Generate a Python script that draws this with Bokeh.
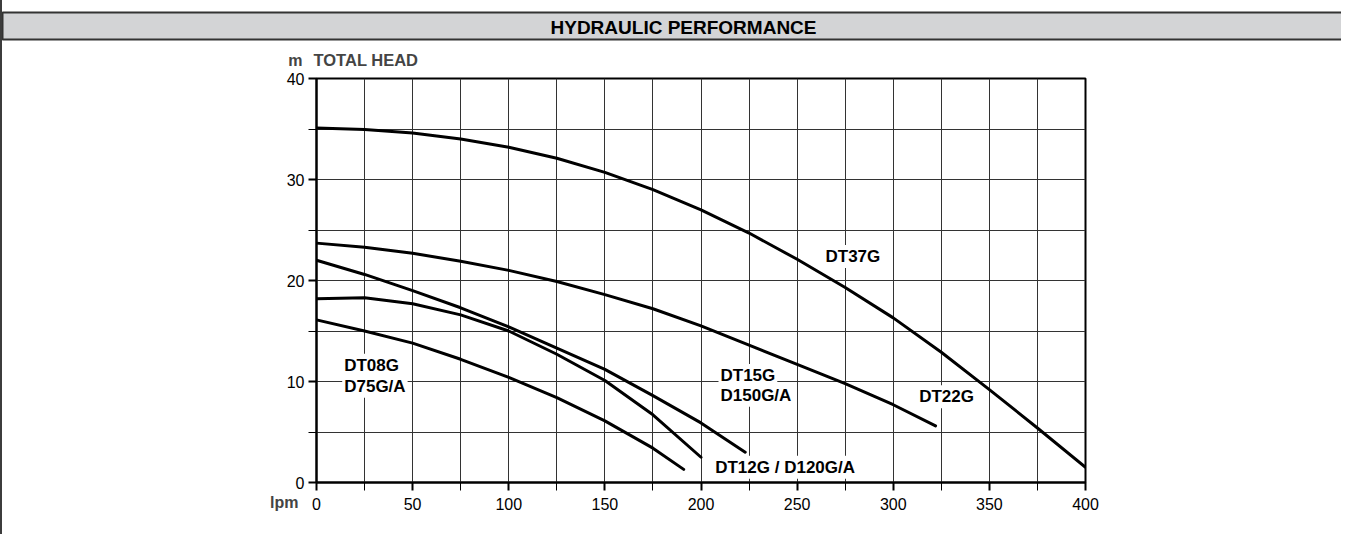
from bokeh.plotting import figure
from bokeh.models import Label, FixedTicker, Range1d
from bokeh.embed import file_html
from bokeh.resources import INLINE

# ---------------- data ----------------
x_ticks = [0, 50, 100, 150, 200, 250, 300, 350, 400]
x_minor = [25, 75, 125, 175, 225, 275, 325, 375]
y_ticks = [0, 10, 20, 30, 40]
y_minor = [5, 15, 25, 35]

dt37_q = [0, 25, 50, 75, 100, 125, 150, 175, 200, 225, 250, 275, 300, 325, 350, 375, 400]
dt37_h = [35.1, 34.95, 34.6, 34.0, 33.2, 32.1, 30.7, 29.0, 27.0, 24.7, 22.1, 19.3, 16.3, 12.9, 9.2, 5.4, 1.5]

dt22_q = [0, 25, 50, 75, 100, 125, 150, 175, 200, 225, 250, 275, 300, 322]
dt22_h = [23.7, 23.3, 22.7, 21.9, 21.0, 19.9, 18.6, 17.2, 15.5, 13.6, 11.7, 9.8, 7.7, 5.6]

dt15_q = [0, 25, 50, 75, 100, 125, 150, 175, 200, 223]
dt15_h = [22.0, 20.6, 19.0, 17.3, 15.4, 13.3, 11.2, 8.6, 5.9, 3.0]

dt12_q = [0, 25, 50, 75, 100, 125, 150, 175, 200]
dt12_h = [18.2, 18.3, 17.7, 16.6, 15.0, 12.7, 10.1, 6.7, 2.5]

dt08_q = [0, 25, 50, 75, 100, 125, 150, 175, 191]
dt08_h = [16.1, 15.0, 13.8, 12.2, 10.4, 8.4, 6.1, 3.4, 1.3]

# ---------------- layout ----------------
W, H = 1341, 534
SHIFT = 2                      # css left border width
FONT = "Liberation Sans"
X0, X1 = 0, 400
Y0, Y1 = 0, 40
# frame in picture coordinates
FL, FR, FT, FB = 316, 1085, 78, 482
LIFT = 7                       # labels render ~7px below the requested baseline


def dx(px):
    """picture x pixel -> data x"""
    return X0 + (px - FL) * (X1 - X0) / (FR - FL)


def dy(py):
    """picture y pixel (text baseline) -> data y"""
    return Y0 + (FB - (py - LIFT)) * (Y1 - Y0) / (FB - FT)


p = figure(width=W, height=H, output_backend="svg", toolbar_location=None,
           x_range=Range1d(X0, X1), y_range=Range1d(Y0, Y1),
           min_border_left=FL - SHIFT, min_border_right=W + SHIFT - FR,
           min_border_top=FT, min_border_bottom=H - FB,
           background_fill_color="white", border_fill_color="white")
p.styles = {"border-left": "2px solid #3c3c3c"}

p.outline_line_color = "black"
p.outline_line_width = 2

for ax, major, minor in ((p.xaxis[0], x_ticks, x_minor), (p.yaxis[0], y_ticks, y_minor)):
    ax.ticker = FixedTicker(ticks=major, minor_ticks=minor)
    ax.axis_line_width = 2
    ax.axis_line_color = "black"
    ax.major_tick_in = 0
    ax.major_tick_out = 8
    ax.minor_tick_in = 0
    ax.minor_tick_out = 8
    ax.major_tick_line_width = 2
    ax.minor_tick_line_width = 1
    ax.major_label_text_font = FONT
    ax.major_label_text_font_size = "16px"
    ax.major_label_text_color = "black"
p.xaxis.major_label_standoff = 7
p.yaxis.major_label_standoff = 4

for g in (p.xgrid[0], p.ygrid[0]):
    g.grid_line_color = "#333333"
    g.grid_line_width = 1
    g.minor_grid_line_color = "#333333"
    g.minor_grid_line_width = 1

# header bar: a left-anchored label whose padded box spans the page width
# padding tuple order is (left, right, top, bottom)
hdr_box_left, hdr_text_left, hdr_text_right, hdr_box_right = 2, 550, 816, 1400
p.add_layout(Label(x=dx(hdr_box_left), y=dy(32.5), text="HYDRAULIC PERFORMANCE", text_align="left",
                   text_baseline="alphabetic", text_font=FONT, text_font_size="19px",
                   text_font_style="bold", text_color="black",
                   background_fill_color="#d3d4d6", background_fill_alpha=1,
                   border_line_color="#333333", border_line_width=2,
                   padding=(hdr_text_left - hdr_box_left, hdr_box_right - hdr_text_right, 4, 2)), "above")

# axis titles (side panels so they are not clipped to the frame)
p.add_layout(Label(x=dx(313), y=dy(66.7), text="TOTAL HEAD", text_align="left", text_baseline="alphabetic",
                   text_font=FONT, text_font_size="16.5px", text_font_style="bold"), "above")
p.add_layout(Label(x=dx(302), y=dy(66.7), text="m", text_align="right", text_baseline="alphabetic",
                   text_font=FONT, text_font_size="16px", text_font_style="bold"), "left")
p.add_layout(Label(x=dx(298), y=dy(509), text="lpm", text_align="right", text_baseline="alphabetic",
                   text_font=FONT, text_font_size="16px", text_font_style="bold"), "left")

# curve labels: (text, left edge in picture px, baseline in picture px)
label_pos = [
    ("DT37G", 823, 263.0),
    ("DT22G", 916.7, 403.3),
    ("DT15G", 718, 382.0),
    ("D150G/A", 718, 401.7),
    ("DT12G / D120G/A", 712.7, 473.7),
    ("DT08G", 341.7, 371.7),
    ("D75G/A", 341.7, 392.8),
]
for t, lx, by in label_pos:
    p.add_layout(Label(x=dx(lx), y=dy(by), text=t, text_align="left", text_baseline="alphabetic",
                       text_font=FONT, text_font_size="17px", text_font_style="bold",
                       text_color="black", background_fill_color="white", background_fill_alpha=1,
                       padding=2, level="underlay"))

# curves
for q, h in ((dt37_q, dt37_h), (dt22_q, dt22_h), (dt15_q, dt15_h), (dt12_q, dt12_h), (dt08_q, dt08_h)):
    p.line(q, h, line_color="black", line_width=3, line_cap="round", line_join="round")

open("out.html", "w").write(file_html(p, INLINE))
